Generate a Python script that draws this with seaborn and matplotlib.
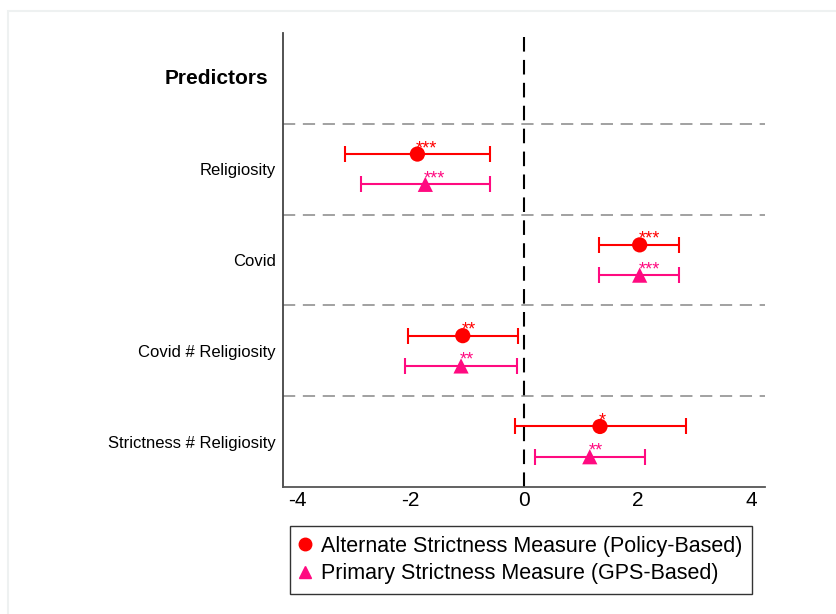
import pandas as pd
import seaborn as sns
import matplotlib.pyplot as plt
from matplotlib.patches import Rectangle
from matplotlib.lines import Line2D

# coefficient estimates and 95% CIs
predictors = ["Religiosity", "Covid", "Covid # Religiosity", "Strictness # Religiosity"]
alt_coef = [-1.88, 2.04, -1.08, 1.34]
alt_lo = [-3.16, 1.33, -2.05, -0.16]
alt_hi = [-0.60, 2.74, -0.10, 2.85]
alt_stars = ["***", "***", "**", "*"]
gps_coef = [-1.74, 2.04, -1.11, 1.16]
gps_lo = [-2.88, 1.33, -2.09, 0.19]
gps_hi = [-0.60, 2.74, -0.13, 2.13]
gps_stars = ["***", "***", "**", "**"]

series = ["Alternate Strictness Measure (Policy-Based)", "Primary Strictness Measure (GPS-Based)"]
colors = {series[0]: "#FF0000", series[1]: "#FF0A80"}
markers = {series[0]: "o", series[1]: "^"}

rows = []
for i, p in enumerate(predictors):
    rows.append(dict(pred=p, model=series[0], coef=alt_coef[i], lo=alt_lo[i], hi=alt_hi[i],
                     stars=alt_stars[i], y=i + 1 + 1 / 3))
    rows.append(dict(pred=p, model=series[1], coef=gps_coef[i], lo=gps_lo[i], hi=gps_hi[i],
                     stars=gps_stars[i], y=i + 1 + 2 / 3))
df = pd.DataFrame(rows)

sns.set_style("white")
plt.rcParams["font.family"] = ["Liberation Sans", "DejaVu Sans"]
plt.rcParams["text.color"] = "black"
plt.rcParams["xtick.color"] = "black"
plt.rcParams["ytick.color"] = "black"

fig = plt.figure(figsize=(8.37, 6.14), dpi=100)
ax = fig.add_axes([283 / 837, 1 - 487 / 614, (765 - 283) / 837, (487 - 33) / 614])

# error bars first, markers on top
for m in series:
    d = df[df.model == m]
    ax.errorbar(d.coef, d.y, xerr=[d.coef - d.lo, d.hi - d.coef], fmt="none",
                ecolor=colors[m], elinewidth=1.5, capsize=6, capthick=1.5, zorder=2)

sns.scatterplot(data=df, x="coef", y="y", hue="model", style="model",
                palette=colors, markers=markers, s=120, linewidth=0,
                legend=False, ax=ax, zorder=3)

for _, r in df.iterrows():
    ax.annotate(r.stars, (r.coef, r.y), xytext=(-1, 4), textcoords="offset points",
                color=colors[r.model], fontsize=13, ha="left", va="center", zorder=4)

# group separators and zero line
for yy in [1, 2, 3, 4]:
    ax.axhline(yy, color="#888888", lw=1.1, ls=(0, (8, 5)), zorder=1)
ax.axvline(0, color="black", lw=1.5, ls=(0, (7, 4)), zorder=1)

ax.set_xlim(-4.25, 4.25)
ax.set_ylim(5, 0)
ax.set_xticks([-4, -2, 0, 2, 4])
ax.set_xticklabels(["-4", "-2", "0", "2", "4"])
ax.set_yticks([1.5, 2.5, 3.5, 4.5])
ax.set_yticklabels(predictors)
ax.tick_params(axis="x", length=0, pad=3, labelsize=15)
ax.tick_params(axis="y", length=0, pad=5, labelsize=12)
ax.set_xlabel("")
ax.set_ylabel("")
ax.text(-0.03, 0.5, "Predictors", transform=ax.get_yaxis_transform(),
        ha="right", va="center", fontsize=15, fontweight="bold")

for s in ["top", "right"]:
    ax.spines[s].set_visible(False)
ax.spines["left"].set_color("#444444")
ax.spines["left"].set_linewidth(1.3)
ax.spines["bottom"].set_color("#555555")
ax.spines["bottom"].set_linewidth(1.3)

handles = [Line2D([], [], ls="none", marker=markers[m], color=colors[m], markersize=9)
           for m in series]
leg = fig.legend(handles, series, loc="lower left",
                 bbox_to_anchor=(290 / 837, 1 - 594 / 614), fontsize=15.5,
                 frameon=True, fancybox=False, edgecolor="black", handletextpad=0.5,
                 handlelength=0.5, borderpad=0.45, labelspacing=0.3, borderaxespad=0)
leg.get_frame().set_linewidth(1.0)

# faint outer frame
fig.patches.append(Rectangle((8 / 837, -0.1), 1.2, 1 - 11 / 614 + 0.1, transform=fig.transFigure,
                             fill=False, edgecolor="#eef1f1", lw=1.5))

fig.savefig("out.png", dpi=100)
